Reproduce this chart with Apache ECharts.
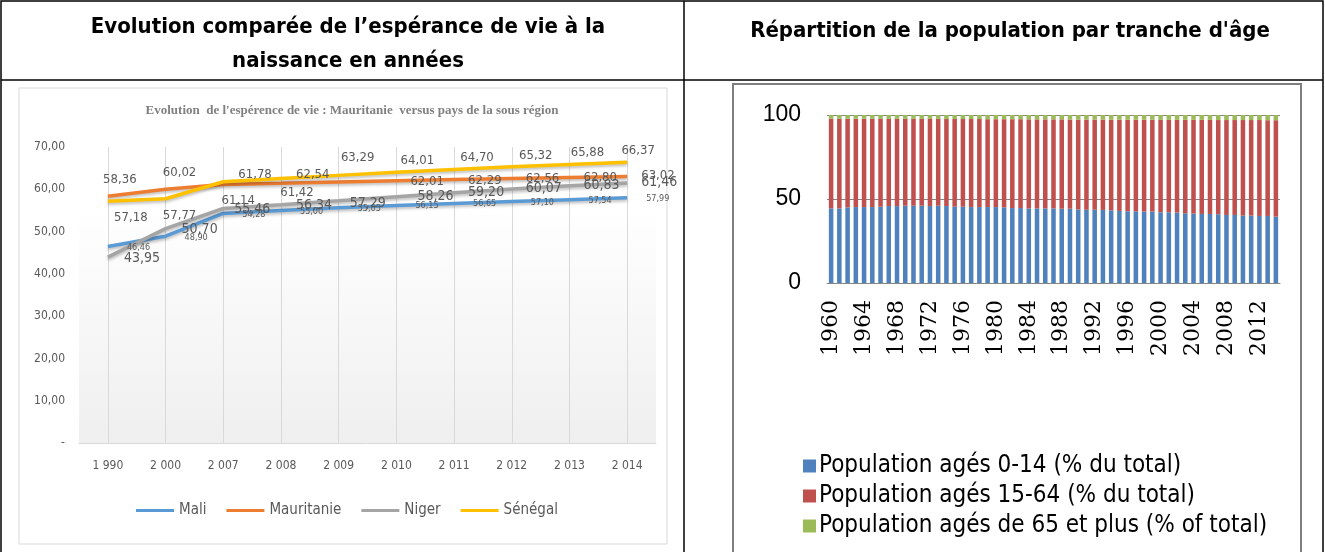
<!DOCTYPE html>
<html>
<head>
    <meta charset="utf-8" />
    <title>Mauritanie</title>
    <script src="https://cdn.jsdelivr.net/npm/echarts@6/dist/echarts.min.js"></script>
    <style>
        html, body { margin: 0; padding: 0; background: #fff; }
    </style>
</head>
<body>
<div id="main" style="width: 1325px; height: 552px"></div>
<script type="text/javascript">
    // esperance de vie
    var lifeYears = ['1 990', '2 000', '2 007', '2 008', '2 009', '2 010', '2 011', '2 012', '2 013', '2 014'];
    var mali = [46.46, 48.90, 54.28, 55.00, 55.65, 56.15, 56.65, 57.10, 57.54, 57.99];
    var mauritanie = [58.36, 60.02, 61.14, 61.42, 61.72, 62.01, 62.29, 62.56, 62.80, 63.02];
    var niger = [43.95, 50.70, 55.46, 56.34, 57.29, 58.26, 59.20, 60.07, 60.83, 61.46];
    var senegal = [57.18, 57.77, 61.78, 62.54, 63.29, 64.01, 64.70, 65.32, 65.88, 66.37];

    // tranches d'age
    var popYears = [];
    for (var y = 1960; y <= 2014; y++) popYears.push(String(y));
    var age0_14 = [44.4, 44.4, 45.0, 45.2, 45.2, 45.2, 45.4, 45.8, 45.8, 46.0,
        46.0, 46.0, 45.8, 46.0, 45.8, 45.4, 45.4, 45.2, 45.2, 45.2,
        45.2, 45.0, 44.6, 44.6, 44.4, 44.4, 44.4, 44.4, 44.2, 44.2,
        43.8, 43.6, 43.6, 43.5, 43.3, 42.9, 42.7, 42.7, 42.5, 42.5,
        42.1, 42.1, 41.9, 41.5, 41.3, 41.1, 41.1, 40.9, 40.5, 40.5,
        40.1, 40.1, 39.9, 39.9, 39.5];
    var age15_64 = [53.4, 53.4, 52.8, 52.6, 52.6, 52.6, 52.3, 51.9, 51.9, 51.7,
        51.7, 51.7, 51.9, 51.7, 51.8, 52.2, 52.2, 52.4, 52.4, 52.3,
        52.3, 52.5, 52.9, 52.9, 53.0, 53.0, 53.0, 53.0, 53.2, 53.1,
        53.5, 53.7, 53.7, 53.8, 53.9, 54.3, 54.5, 54.5, 54.7, 54.7,
        55.0, 55.0, 55.2, 55.6, 55.8, 56.0, 56.0, 56.1, 56.5, 56.5,
        56.9, 56.9, 57.1, 57.0, 57.4];
    var age65 = [2.2, 2.2, 2.2, 2.2, 2.2, 2.2, 2.3, 2.3, 2.3, 2.3,
        2.3, 2.3, 2.3, 2.3, 2.4, 2.4, 2.4, 2.4, 2.4, 2.5,
        2.5, 2.5, 2.5, 2.5, 2.6, 2.6, 2.6, 2.6, 2.6, 2.7,
        2.7, 2.7, 2.7, 2.7, 2.8, 2.8, 2.8, 2.8, 2.8, 2.8,
        2.9, 2.9, 2.9, 2.9, 2.9, 2.9, 2.9, 3.0, 3.0, 3.0,
        3.0, 3.0, 3.0, 3.1, 3.1];

    var narrow = '"Liberation Sans Narrow", "DejaVu Sans Condensed", "Noto Sans", sans-serif';

    function fmt(v) {
        return v.toFixed(2).replace('.', ',');
    }

    // position des etiquettes, point par point (comme dans le graphique Excel)
    function withLabels(values, places, size) {
        return values.map(function (v, i) {
            var p = places[i];
            if (!p) return { value: v, label: { show: false } };
            return {
                value: v,
                label: { show: true, position: p[0], offset: [p[1], p[2]], fontSize: size }
            };
        });
    }
    var R = function (dx, dy) { return ['right', dx, dy]; };
    var T = function (dx, dy) { return ['top', dx, dy]; };
    var B = function (dx, dy) { return ['bottom', dx, dy]; };

    var maliPlaces = [R(14, 1), R(14, 1), R(14, 1), R(14, 1), R(14, 1), R(14, 0), R(14, 0), R(14, 1), R(14, 1), R(14, 1)];
    var mauriPlaces = [T(12, -5), T(14, -5), B(15, 5), B(16, -2), null, R(9, 1), R(9, 1), R(9, 0), R(9, 0), R(9, -1)];
    var nigerPlaces = [R(11, 1), R(11, 1), R(6, 1), R(10, 1), R(6, 3), R(16, 0), R(9, 0), R(9, -1), R(9, 0), R(9, -1)];
    var senePlaces = [B(23, 5), B(14, 5), R(10, -7), R(10, -4), T(19, -6), T(21, 0), T(23, 0), T(24, 0), T(18, 0), T(11, 0)];

    function lineSerie(name, values, places, size, color) {
        return {
            name: name, type: 'line', xAxisIndex: 0, yAxisIndex: 0,
            symbol: 'circle', symbolSize: 0.1, showSymbol: true,
            data: withLabels(values, places, size),
            lineStyle: { width: 3.5, color: color, shadowBlur: 3, shadowColor: 'rgba(0,0,0,0.25)', shadowOffsetY: 2 },
            itemStyle: { color: color },
            label: { color: '#595959', fontFamily: narrow, formatter: function (p) { return fmt(p.value); } },
            z: 3
        };
    }

    var myChart = echarts.init(document.getElementById('main'));
    myChart.setOption({
        animation: false,
        backgroundColor: '#fff',
        title: [
            {
                text: 'Evolution comparée de l\u2019espérance de vie à la\nnaissance en années',
                left: 343, top: 5, textAlign: 'center',
                textStyle: { fontFamily: narrow, fontWeight: 'bold', fontSize: 22, lineHeight: 34, color: '#000' }
            },
            {
                text: 'Répartition de la population par tranche d\'âge',
                left: 1005, top: 15, textAlign: 'center',
                textStyle: { fontFamily: narrow, fontWeight: 'bold', fontSize: 22, color: '#000' }
            },
            {
                text: 'Evolution  de l\'espérence de vie : Mauritanie  versus pays de la sous région',
                left: 347, top: 99, textAlign: 'center',
                textStyle: { fontFamily: '"Liberation Serif", serif', fontWeight: 'bold', fontSize: 13, color: '#808080' }
            }
        ],
        graphic: [
            { type: 'rect', shape: { x: 1, y: 1, width: 1322, height: 570 }, style: { fill: 'none', stroke: '#000', lineWidth: 1.5 }, silent: true },
            { type: 'line', shape: { x1: 1, y1: 80, x2: 1323, y2: 80 }, style: { stroke: '#000', lineWidth: 1.5 }, silent: true },
            { type: 'line', shape: { x1: 684, y1: 1, x2: 684, y2: 552 }, style: { stroke: '#000', lineWidth: 1.5 }, silent: true },
            { type: 'rect', shape: { x: 19, y: 88, width: 648, height: 456 }, style: { fill: 'none', stroke: '#d9d9d9', lineWidth: 1 }, silent: true },
            { type: 'rect', shape: { x: 733, y: 84, width: 568, height: 490 }, style: { fill: 'none', stroke: '#7f7f7f', lineWidth: 2 }, silent: true }
        ],
        legend: [
            {
                data: ['Mali', 'Mauritanie', 'Niger', 'Sénégal'],
                left: 131, top: 498, icon: 'rect',
                itemWidth: 38, itemHeight: 3, itemGap: 20,
                textStyle: { fontFamily: narrow, fontSize: 15, color: '#595959' }
            },
            {
                data: ['Population agés 0-14 (% du total)', 'Population agés 15-64 (% du total)', 'Population agés de 65 et plus (% of total)'],
                orient: 'vertical', left: 798, top: 449,
                icon: 'rect', itemWidth: 13, itemHeight: 13, itemGap: 6,
                textStyle: { fontFamily: narrow, fontSize: 24, color: '#000', padding: [0, 0, 0, -2] }
            }
        ],
        grid: [
            {
                left: 79, top: 147, width: 577, height: 296, show: true, borderWidth: 0,
                backgroundColor: new echarts.graphic.LinearGradient(0, 0, 0, 1, [
                    { offset: 0, color: '#ffffff' }, { offset: 0.2, color: '#ffffff' }, { offset: 1, color: '#efefef' }
                ])
            },
            { left: 827, top: 115, width: 453, height: 168 }
        ],
        xAxis: [
            {
                type: 'category', gridIndex: 0, data: lifeYears, boundaryGap: true,
                axisLine: { lineStyle: { color: '#d9d9d9' } },
                axisTick: { show: false },
                splitLine: { show: true, alignWithLabel: true, lineStyle: { color: '#d9d9d9' } },
                axisLabel: { fontFamily: narrow, fontSize: 12, color: '#595959', margin: 17 }
            },
            {
                type: 'category', gridIndex: 1, data: popYears,
                axisLine: { lineStyle: { color: '#868686' } },
                axisTick: { interval: 0, length: 6, lineStyle: { color: '#868686' } },
                axisLabel: { interval: 3, rotate: 90, fontFamily: '"DejaVu Serif", serif', fontSize: 22, color: '#000', margin: 17 }
            }
        ],
        yAxis: [
            {
                type: 'value', gridIndex: 0, min: 0, max: 70, interval: 10,
                axisLine: { show: false }, axisTick: { show: false }, splitLine: { show: false },
                axisLabel: {
                    fontFamily: narrow, fontSize: 12, color: '#595959', margin: 14,
                    formatter: function (v) { return v === 0 ? '-' : fmt(v); }
                }
            },
            {
                type: 'value', gridIndex: 1, min: 0, max: 100, interval: 50,
                axisLine: { show: false }, axisTick: { show: false },
                splitLine: { lineStyle: { color: '#868686' } },
                axisLabel: { fontFamily: '"Liberation Sans", Arial, sans-serif', fontSize: 23, color: '#000', margin: 26 }
            }
        ],
        series: [
            lineSerie('Mali', mali, maliPlaces, 9, '#5b9bd5'),
            lineSerie('Mauritanie', mauritanie, mauriPlaces, 13, '#ed7d31'),
            lineSerie('Niger', niger, nigerPlaces, 14, '#a5a5a5'),
            lineSerie('Sénégal', senegal, senePlaces, 13, '#ffc000'),
            {
                name: 'Population agés 0-14 (% du total)', type: 'bar', stack: 'age', xAxisIndex: 1, yAxisIndex: 1,
                barWidth: '55%', itemStyle: { color: '#4f81bd' }, data: age0_14
            },
            {
                name: 'Population agés 15-64 (% du total)', type: 'bar', stack: 'age', xAxisIndex: 1, yAxisIndex: 1,
                barWidth: '55%', itemStyle: { color: '#c0504d' }, data: age15_64
            },
            {
                name: 'Population agés de 65 et plus (% of total)', type: 'bar', stack: 'age', xAxisIndex: 1, yAxisIndex: 1,
                barWidth: '55%', itemStyle: { color: '#9bbb59' }, data: age65
            }
        ]
    });
</script>
</body>
</html>
